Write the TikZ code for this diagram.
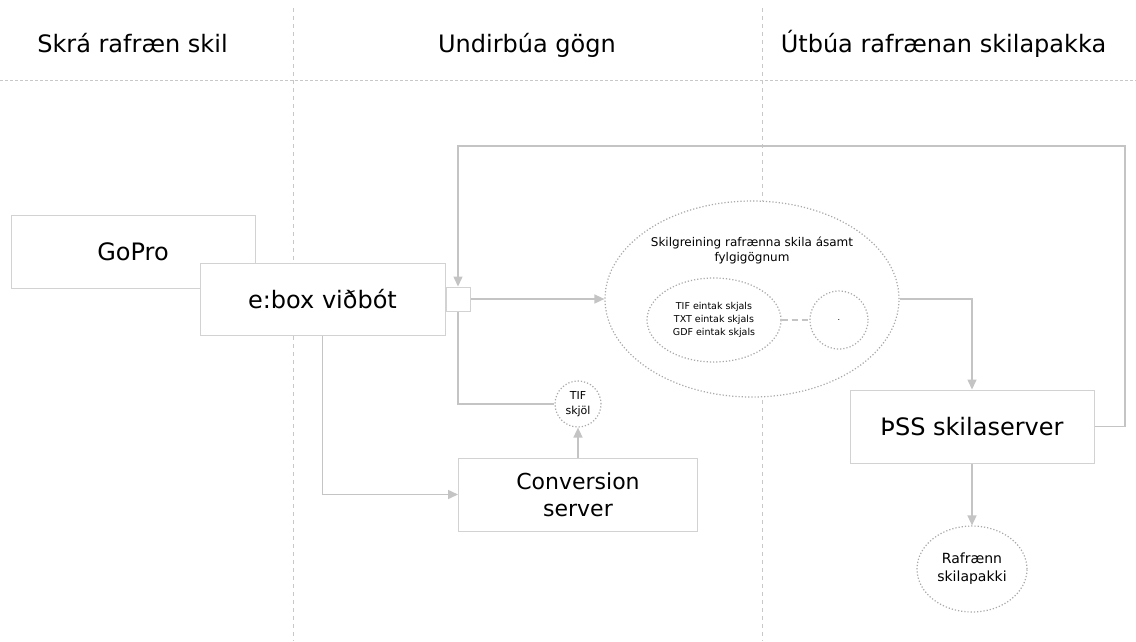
\documentclass[tikz,border=0pt]{standalone}
\usepackage{fontspec}
\setmainfont{DejaVu Sans}
\usetikzlibrary{arrows.meta,shapes.geometric,calc}
\definecolor{boxgray}{HTML}{D2D2D2}
\definecolor{linegray}{HTML}{C4C4C4}
\definecolor{dotgray}{HTML}{A8A8A8}
\definecolor{lanegray}{HTML}{C8C8C8}

\begin{document}
\begin{tikzpicture}[x=1pt, y=-1pt,
        box/.style={draw=boxgray, fill=white, line width=1pt, minimum width=244pt, minimum height=73pt,
            inner sep=0pt, align=center, font=\fontsize{24}{27}\selectfont},
        bubble/.style={ellipse, draw=dotgray, dotted, fill=white, line width=1.2pt, inner sep=0pt, align=center},
        flow/.style={draw=linegray, line width=1.5pt, -{Triangle[length=10pt, width=9pt]}},
        link/.style={draw=linegray, line width=1.5pt},
        lane/.style={draw=lanegray, line width=0.8pt, dash pattern=on 4pt off 4pt},
        lanetitle/.style={anchor=base, font=\fontsize{24}{28}\selectfont}]
        \useasboundingbox [fill=white] (0, 0) rectangle (1136, 641);

        % swim lanes
        \draw [lane] (293, 8) -- (293, 641);
        \draw [lane] (762, 8) -- (762, 641);
        \draw [lane, dash pattern=on 3pt off 2pt] (0, 80) -- (1136, 80);
        \node [lanetitle] (laneA) at (132.5, 52) {Skrá rafræn skil};
        \node [lanetitle] (laneB) at (527, 52) {Undirbúa gögn};
        \node [lanetitle] (laneC) at (943.5, 52) {Útbúa rafrænan skilapakka};

        \node [box] (gopro) at (133, 251.5) {GoPro};
        \node [box, minimum width=245pt, minimum height=72pt] (ebox) at (322.5, 299) {e:box viðbót};
        \node [draw=boxgray, fill=white, line width=1pt, minimum size=24pt, inner sep=0pt, anchor=west] (port) at (ebox.east) {};
        \node [box, minimum width=239pt, font=\fontsize{22}{27}\selectfont] (conv) at (578, 494.5) {Conversion\\server};
        \node [box] (pss) at (972, 426.5) {ÞSS skilaserver};

        \node [bubble, minimum width=294pt, minimum height=196pt] (frame) at (752, 299) {};
        \node [align=center, font=\fontsize{12}{15}\selectfont] (frametitle) at (752, 250) {Skilgreining rafrænna skila ásamt\\fylgigögnum};
        \node [bubble, minimum width=134pt, minimum height=84pt, font=\fontsize{9.5}{13}\selectfont] (files) at (714, 320)
            {TIF eintak skjals\\TXT eintak skjals\\GDF eintak skjals};
        \node [bubble, minimum size=58pt, font=\fontsize{8}{9}\selectfont] (more) at (839, 320) {.};
        \node [bubble, minimum size=46pt, font=\fontsize{11}{15}\selectfont] (tif) at (578, 404) {TIF\\skjöl};
        \node [bubble, minimum width=110pt, minimum height=86pt, font=\fontsize{14}{18}\selectfont] (result) at (972, 569)
            {Rafrænn\\skilapakki};

        % connectors
        \coordinate (loopR) at (1125, 146);
        \draw [flow] (pss.east) -| (loopR) -| (port.north);
        \draw [flow] (port.east) -- (frame.west);
        \draw [flow] (frame.east) -| (pss.north);
        \draw [flow] (pss.south) -- (result.north);
        \draw [link] (port.south) |- (tif.west);
        \draw [flow] (conv.north) -- (tif.south);
        \draw [flow] (ebox.south) |- (conv.west);
        \draw [link, dash pattern=on 6pt off 4pt] (files.east) -- (more.west);
    \end{tikzpicture}
\end{document}
